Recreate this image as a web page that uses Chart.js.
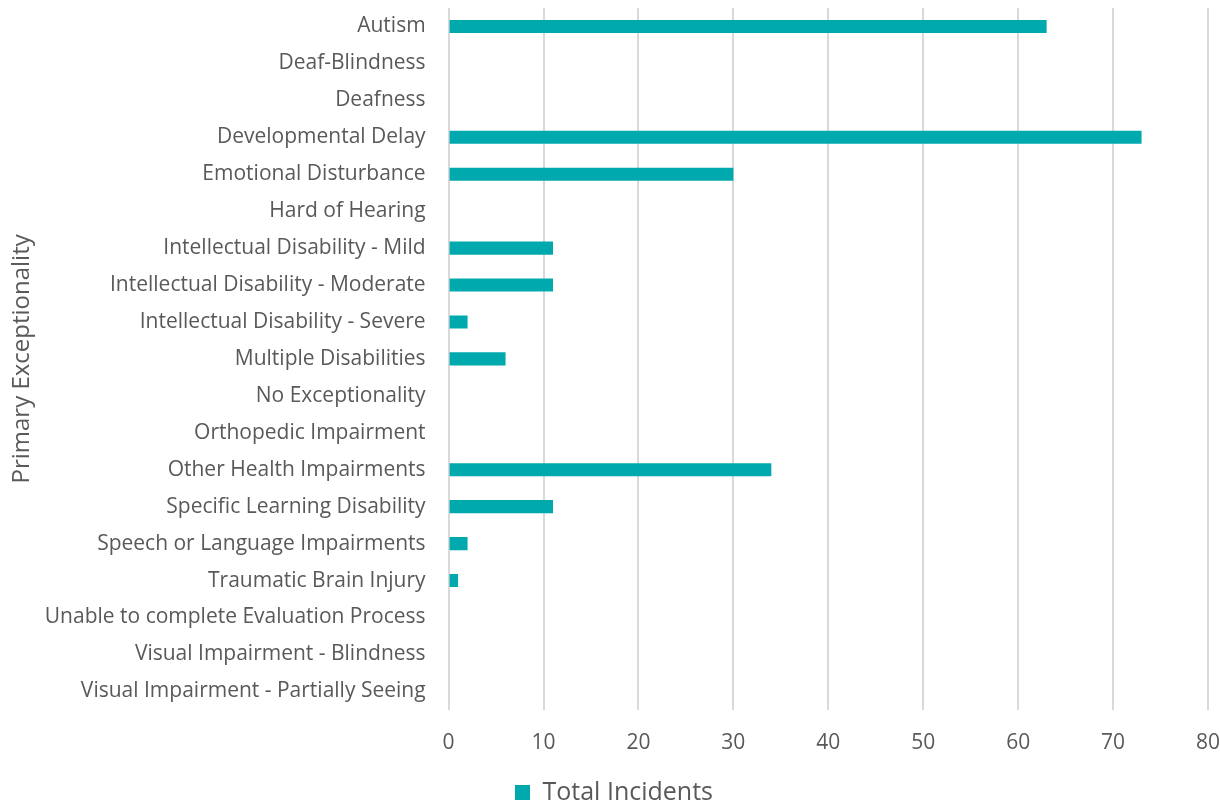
<!DOCTYPE html>
<html>
<head>
<meta charset="utf-8">
<script src="https://cdn.jsdelivr.net/npm/chart.js@4/dist/chart.umd.min.js"></script>
<style>
  html, body { margin: 0; padding: 0; background: #fff; }
  #wrap { width: 1220px; height: 807px; position: relative; }
</style>
</head>
<body>
<div id="wrap"><canvas id="chart"></canvas></div>
<script>
// Chart data
const categories = [
  'Autism',
  'Deaf-Blindness',
  'Deafness',
  'Developmental Delay',
  'Emotional Disturbance',
  'Hard of Hearing',
  'Intellectual Disability - Mild',
  'Intellectual Disability - Moderate',
  'Intellectual Disability - Severe',
  'Multiple Disabilities',
  'No Exceptionality',
  'Orthopedic Impairment',
  'Other Health Impairments',
  'Specific Learning Disability',
  'Speech or Language Impairments',
  'Traumatic Brain Injury',
  'Unable to complete Evaluation Process',
  'Visual Impairment - Blindness',
  'Visual Impairment - Partially Seeing'
];
const totalIncidents = [63, 0, 0, 73, 30, 0, 11, 11, 2, 6, 0, 0, 34, 11, 2, 1, 0, 0, 0];
const xTicks = [0, 10, 20, 30, 40, 50, 60, 70, 80];

const textColor = '#595959';
const fontFamily = '"Open Sans", sans-serif';

const ctx = document.getElementById('chart').getContext('2d');
new Chart(ctx, {
  type: 'bar',
  data: {
    labels: categories,
    datasets: [{
      label: 'Total Incidents',
      data: totalIncidents,
      backgroundColor: '#00A9AD',
      borderWidth: 0,
      categoryPercentage: 1,
      barPercentage: 0.355
    }]
  },
  options: {
    indexAxis: 'y',
    responsive: true,
    maintainAspectRatio: false,
    animation: false,
    layout: { padding: { top: 8, right: 0, bottom: -8, left: 8 } },
    plugins: {
      tooltip: { enabled: false },
      legend: {
        position: 'bottom',
        labels: {
          color: textColor,
          font: { family: fontFamily, size: 25 },
          boxWidth: 15,
          boxHeight: 15,
          padding: 3
        }
      }
    },
    scales: {
      x: {
        min: xTicks[0],
        max: xTicks[xTicks.length - 1],
        afterBuildTicks: axis => { axis.ticks = xTicks.map(v => ({ value: v })); },
        afterFit: scale => { scale.paddingRight = 12; },
        grid: { color: '#d9d9d9', lineWidth: 2, drawTicks: false },
        border: { display: false },
        ticks: {
          color: textColor,
          font: { family: fontFamily, size: 21 },
          padding: 21
        }
      },
      y: {
        afterFit: scale => {
          scale.paddingTop = 0;
          scale.paddingBottom = 0;
          scale.width -= 13;
        },
        grid: { display: false },
        border: { display: false },
        title: {
          display: true,
          text: 'Primary Exceptionality',
          color: textColor,
          font: { family: fontFamily, size: 24 },
          padding: { top: 0, bottom: 6 }
        },
        ticks: {
          color: textColor,
          font: { family: fontFamily, size: 21 },
          padding: 15,
          autoSkip: false
        }
      }
    }
  }
});
</script>
</body>
</html>
